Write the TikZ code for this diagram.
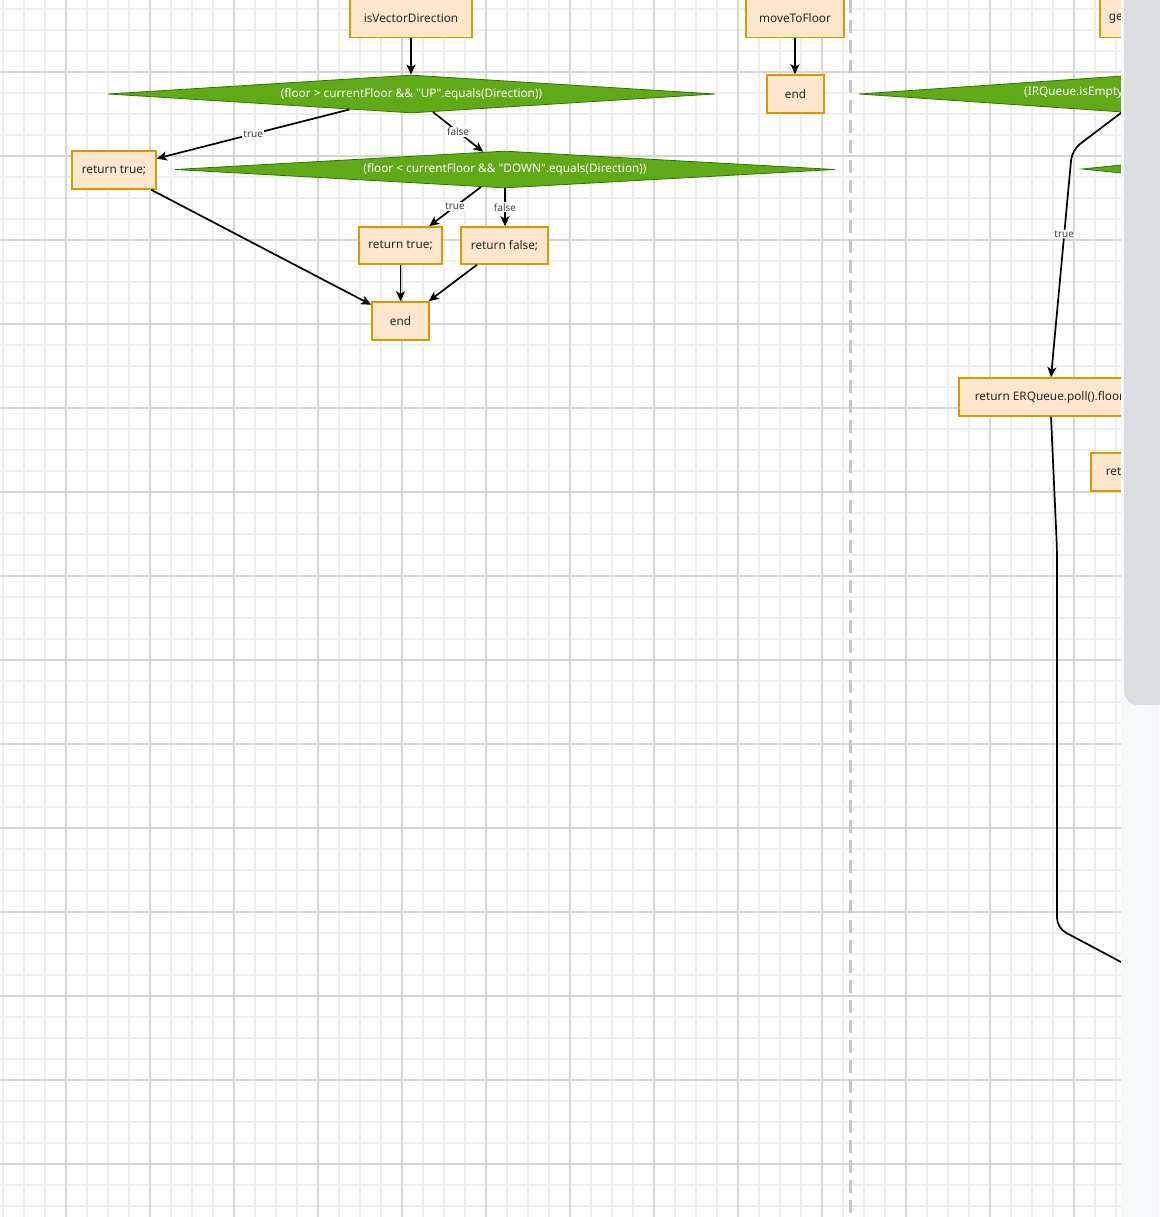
\documentclass[tikz,border=0pt]{standalone}
\usepackage{fontspec}
\setmainfont{Noto Sans}[Ligatures=TeXOff]
\usetikzlibrary{shapes.geometric,arrows.meta}
\definecolor{boxfill}{HTML}{FFE6CC}
\definecolor{boxline}{HTML}{D79B00}
\definecolor{decfill}{HTML}{60A917}
\definecolor{decline}{HTML}{2D7600}
\definecolor{gridminor}{HTML}{EEEEEE}
\definecolor{gridmajor}{HTML}{D6D6D6}
\definecolor{dashgray}{HTML}{C6C6C6}
\definecolor{sidebg}{HTML}{F7F8F9}
\definecolor{thumb}{HTML}{DCDDE0}
\begin{document}
\begin{tikzpicture}[x=1pt,y=-1pt,
  box/.style={draw=boxline, fill=boxfill, line width=1.6pt, minimum height=38pt, inner sep=0pt, font=\fontsize{11.8}{14}\selectfont, text=black!85},
  dec/.style={diamond, aspect=20, draw=decline, fill=decfill, line width=0.8pt, inner sep=0pt, text=white, font=\fontsize{11.8}{14}\selectfont},
  dectext/.style={text=white, inner sep=0pt, font=\fontsize{11.8}{14}\selectfont},
  arr/.style={-{Stealth[length=10pt,width=9pt,inset=2.5pt]}, line width=1.7pt},
  conn/.style={line width=1.7pt, rounded corners=10pt},
  lbl/.style={fill=white, inner sep=1pt, font=\fontsize{10}{12}\selectfont, text=black!75},
  minorline/.style={draw=gridminor, line width=2.5pt},
  majorline/.style={draw=gridmajor, line width=1.5pt}]
\useasboundingbox (0,0) rectangle (1159,1217);
\fill[white] (0,0) rectangle (1159,1217);

\begin{scope}
\clip (0,0) rectangle (1121,1217);
% grid
\foreach \i in {0,...,53} { \draw[minorline] ({3+21*\i},0) -- ({3+21*\i},1217); }
\foreach \i in {0,...,58} { \draw[minorline] (0,{9+21*\i}) -- (1121,{9+21*\i}); }
\foreach \i in {0,...,12} { \draw[majorline] ({66+84*\i},0) -- ({66+84*\i},1217); }
\foreach \i in {0,...,13} { \draw[majorline] (0,{72+84*\i}) -- (1121,{72+84*\i}); }
% separator
\draw[dashgray, line width=3pt, dash pattern=on 13pt off 7pt] (850,0) -- (850,1217);

% left flow
\node[box, minimum width=122] (isv) at (411,18.5) {isVectorDirection};
\node[dec, minimum width=607, minimum height=38] (d1) at (411.5,94) {(floor > currentFloor \&\& "UP".equals(Direction))};
\node[box, minimum width=84] (rt1) at (114,170) {return true;};
\node[dec, minimum width=660, minimum height=37] (d2) at (505,169.5) {(floor < currentFloor \&\& "DOWN".equals(Direction))};
\node[box, minimum width=83, minimum height=37] (rt2) at (400.5,245.5) {return true;};
\node[box, minimum width=87, minimum height=37] (rf) at (504.5,245.5) {return false;};
\node[box, minimum width=57] (end1) at (400.5,321) {end};

\draw[arr] (isv.south) -- (isv.south |- d1.north);
\draw[arr] (d1.194) -- node[lbl]{true} (rt1.15);
\draw[arr] (d1.-40) -- node[lbl]{false} (d2.141);
\draw[arr] (d2.216) -- node[lbl]{true} (rt2.34);
\draw[arr] (d2.south) -- node[lbl]{false} (d2.south |- rf.north);
\draw[arr] (rt1.-28) -- (end1.151);
\draw[arr] (rt2.south) -- (end1.north);
\draw[arr] (rf.215) -- (end1.35);

% middle flow
\node[box, minimum width=98] (mtf) at (795,18.5) {moveToFloor};
\node[box, minimum width=57] (end2) at (795.5,94) {end};
\draw[arr] (mtf.south) -- (mtf.south |- end2.north);

% right flow (cut off by the view)
\node[box, anchor=west, inner xsep=9pt] (ge) at (1099,18.5) {\makebox[90pt][l]{ge}};
\node[dec, minimum width=552, minimum height=38] (d3) at (1135,94) {};
\node[dectext, anchor=west] (d3t) at (1024,93) {(IRQueue.isEmpty()};
\node[dec, minimum width=360, minimum height=37] (d4) at (1262,169) {};
\node[box, minimum width=184] (erq) at (1051,397) {return ERQueue.poll().floor;};
\node[box, anchor=west, inner xsep=15pt] (ret) at (1090,472) {\makebox[120pt][l]{return}};

\coordinate (b1) at (1072,150);
\coordinate (b2) at (1057,550);
\coordinate (b3) at (1057,928);
\coordinate (tail) at (1200,1004);
\draw[arr, rounded corners=10pt] (d3.234) -- (b1) -- node[lbl, pos=0.37]{true} (erq.north);
\draw[conn] (erq.south) -- (b2) -- (b3) -- (tail);
\end{scope}

% side strip and scroll thumb
\fill[sidebg] (1121,0) rectangle (1159,1217);
\fill[thumb, rounded corners=14pt] (1124,-20) rectangle (1180,705);
\end{tikzpicture}
\end{document}
